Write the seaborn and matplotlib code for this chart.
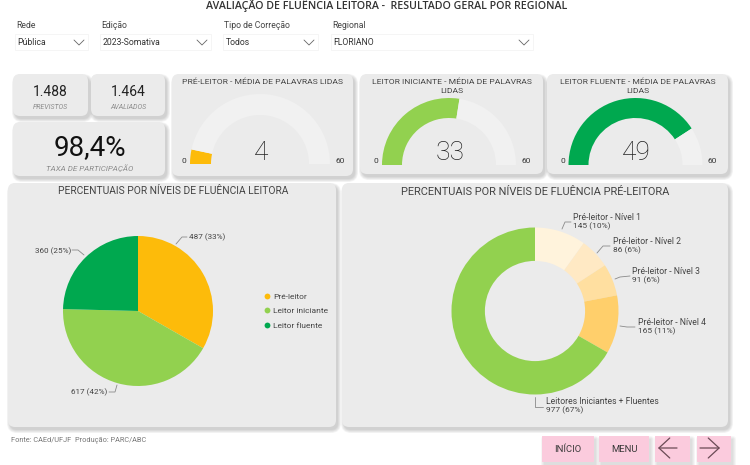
"""Painel de fluência leitora: cards, gauges, pizza e rosca."""
import matplotlib
matplotlib.use("Agg")
import matplotlib.pyplot as plt
import seaborn as sns
from matplotlib.lines import Line2D
from matplotlib.patches import FancyBboxPatch

# data
filter_labels = ["Rede", "Edição", "Tipo de Correção", "Regional"]
filter_values = ["Pública", "2023-Somativa", "Todos", "FLORIANO"]
previstos = "1.488"
avaliados = "1.464"
taxa = "98,4%"
gauge_titles = [
    "PRÉ-LEITOR - MÉDIA DE PALAVRAS LIDAS",
    "LEITOR INICIANTE - MÉDIA DE PALAVRAS\nLIDAS",
    "LEITOR FLUENTE - MÉDIA DE PALAVRAS\nLIDAS",
]
gauge_values = [4, 33, 49]
gauge_max = 60
level_names = ["Pré-leitor", "Leitor iniciante", "Leitor fluente"]
level_counts = [487, 617, 360]
pre_names = ["Pré-leitor - Nível 1", "Pré-leitor - Nível 2", "Pré-leitor - Nível 3",
             "Pré-leitor - Nível 4", "Leitores Iniciantes + Fluentes"]
pre_counts = [145, 86, 91, 165, 977]

# style
W, H = 750, 465
CARD = "#EBEBEB"
TRACK = "#F1F1F1"
TEXT = "#3A3A3A"
GREY = "#8C8C8C"
YELLOW = "#FDBB0A"
LIGHT_GREEN = "#92D14F"
GREEN = "#00A84F"
level_colors = [YELLOW, LIGHT_GREEN, GREEN]
pre_colors = ["#FFF3DC", "#FFE9C4", "#FFDFA0", "#FFCF6B", LIGHT_GREEN]
BUTTON = "#FBCBDD"

sns.set_theme(style="white")
plt.rcParams["font.family"] = ["Roboto", "DejaVu Sans"]

fig = plt.figure(figsize=(W / 100, H / 100), dpi=100, facecolor="white")


def pixel_axes(zorder):
    ax = fig.add_axes([0, 0, 1, 1], zorder=zorder)
    ax.set_xlim(0, W)
    ax.set_ylim(H, 0)
    ax.axis("off")
    ax.patch.set_alpha(0)
    return ax


back = pixel_axes(0)
front = pixel_axes(5)


def card(x0, y0, x1, y1, color=CARD, rad=7, shadow=0.06):
    # soft shadow from a few stacked translucent boxes
    for grow in (6.0, 4.5, 3.0, 1.5, 0.0):
        back.add_patch(FancyBboxPatch(
            (x0 + 2 - grow / 2, y0 + 3 - grow / 2), x1 - x0 + grow, y1 - y0 + grow,
            boxstyle=f"round,pad=0,rounding_size={rad + grow / 2}",
            fc="#555555", ec="none", alpha=shadow))
    back.add_patch(FancyBboxPatch(
        (x0, y0), x1 - x0, y1 - y0, boxstyle=f"round,pad=0,rounding_size={rad}",
        fc=color, ec="none"))


def circle_axes(cx, cy, radius):
    # ax.pie keeps +-1.25 as limits, so the box is 2.5 radii wide
    half = radius * 1.25
    ax = fig.add_axes([(cx - half) / W, 1 - (cy + half) / H, 2 * half / W, 2 * half / H], zorder=2)
    ax.patch.set_alpha(0)
    return ax


def gauge(cx, cy, radius, thick, value, color):
    ax = circle_axes(cx, cy, radius)
    wedges, _ = ax.pie([value, gauge_max - value, gauge_max], colors=[color, TRACK, "none"],
                       startangle=180, counterclock=False,
                       wedgeprops={"width": thick / radius, "linewidth": 0})
    wedges[2].set_visible(False)


def leader(points):
    xs, ys = zip(*points)
    front.add_line(Line2D(xs, ys, color="#8A8A8A", lw=0.6))


def count_label(count, total):
    return f"{count} ({round(100 * count / total)}%)"


# top title and filters
front.text(387, 5.5, "AVALIAÇÃO DE FLUÊNCIA LEITORA -  RESULTADO GERAL POR REGIONAL",
           ha="center", va="center", fontsize=7.7, fontfamily="Open Sans",
           fontweight="semibold", color="#333333")
filter_boxes = [(15, 88), (100, 211), (223, 318), (331, 533)]
for label, value, (x0, x1) in zip(filter_labels, filter_values, filter_boxes):
    back.add_patch(FancyBboxPatch((x0, 34), x1 - x0, 16, boxstyle="square,pad=0",
                                  fc="white", ec="#F4F4F4", lw=0.6))
    front.text(x0 + 1, 25, label, ha="left", va="center", fontsize=6.2, color="#444444")
    front.text(x0 + 2.5, 42.5, value, ha="left", va="center", fontsize=6.2, color="#333333")
    mid = x1 - 9
    front.plot([mid - 5, mid, mid + 5], [40, 45, 40], color="#666666", lw=0.6)

# KPI cards
card(13, 74, 88, 116)
card(91, 74, 165, 116)
card(13, 122, 165, 176)
front.text(50, 92.5, previstos, ha="center", va="center", fontsize=10, color="#222222")
front.text(50, 107, "PREVISTOS", ha="center", va="center", fontsize=5, style="italic", color=GREY)
front.text(128, 92.5, avaliados, ha="center", va="center", fontsize=10, color="#222222")
front.text(128, 107, "AVALIADOS", ha="center", va="center", fontsize=5, style="italic", color=GREY)
front.text(90, 148, taxa, ha="center", va="center", fontsize=20, color="#111111")
front.text(90, 168, "TAXA DE PARTICIPAÇÃO", ha="center", va="center", fontsize=5.8,
           style="italic", color=GREY)

# gauges
gauge_cards = [(172, 74, 353, 176), (360, 74, 543, 174), (547, 74, 728, 174)]
gauge_geom = [(260, 164, 70, 21), (449, 165, 67, 20), (635.5, 165, 67, 20)]
gauge_colors = [YELLOW, LIGHT_GREEN, GREEN]
for title, value, box, geom, color in zip(gauge_titles, gauge_values, gauge_cards,
                                          gauge_geom, gauge_colors):
    card(*box)
    cx, cy, radius, thick = geom
    gauge(cx, cy, radius, thick, value, color)
    mid = (box[0] + box[2]) / 2
    # one text per line, matplotlib's linespacing is too tight at this size
    for i, line in enumerate(title.split("\n")):
        front.text(mid, 82 + 9.3 * i, line, ha="center", va="center", fontsize=6.1, color="#444444")
    front.text(cx + 1, 153, str(value), ha="center", va="center", fontsize=19,
               fontweight="light", color="#222222")
    front.text(cx - radius - 6, 160.5, "0", ha="center", va="center", fontsize=6, color="#333333")
    front.text(cx + radius + 10, 160.5, str(gauge_max), ha="center", va="center",
               fontsize=6, color="#333333")

# large cards
card(8, 183, 336, 427)
card(342, 183, 728, 427)
front.text(173, 191, "PERCENTUAIS POR NÍVEIS DE FLUÊNCIA LEITORA", ha="center", va="center",
           fontsize=7.4, color="#444444")
front.text(535, 192, "PERCENTUAIS POR NÍVEIS DE FLUÊNCIA PRÉ-LEITORA", ha="center", va="center",
           fontsize=7.9, color="#444444")

# pie
pie_ax = circle_axes(138, 311, 75)
pie_ax.pie(level_counts, colors=level_colors, startangle=90, counterclock=False,
           wedgeprops={"linewidth": 0})
total = sum(level_counts)
pie_text = [(189, 237), (71, 392), (35, 251)]
pie_lines = [[(176, 244), (182, 237), (187, 237)],
             [(109, 392), (115, 392), (117, 385)],
             [(72, 250), (78, 250), (84, 255)]]
for count, pos, pts in zip(level_counts, pie_text, pie_lines):
    front.text(pos[0], pos[1], count_label(count, total), ha="left", va="center",
               fontsize=5.9, color="#444444")
    leader(pts)

handles = [Line2D([], [], marker="o", ls="", ms=4.2, mfc=c, mec="none") for c in level_colors]
front.legend(handles, level_names, loc="center left", bbox_to_anchor=(258 / W, 1 - 311 / H),
             bbox_transform=fig.transFigure, frameon=False, fontsize=6.0, labelspacing=0.9,
             handletextpad=0.1, handlelength=1.2, borderpad=0, labelcolor="#444444")

# donut
donut_ax = circle_axes(535, 311, 83.5)
donut_ax.pie(pre_counts, colors=pre_colors, startangle=90, counterclock=False,
             wedgeprops={"width": 0.4, "linewidth": 0})
total_pre = sum(pre_counts)
donut_text = [(573, 217), (613, 241), (632, 271), (638, 322), (546, 401)]
donut_lines = [[(562, 229), (565, 222), (571, 222)],
               [(597, 253), (603, 246), (610, 246)],
               [(615, 279), (620, 277), (630, 276)],
               [(620, 326), (627, 327), (635, 327)],
               [(535, 397), (535, 407), (543, 407)]]
for name, count, pos, pts in zip(pre_names, pre_counts, donut_text, donut_lines):
    front.text(pos[0], pos[1], name, ha="left", va="center", fontsize=6.2, color="#444444")
    front.text(pos[0], pos[1] + 9.5, count_label(count, total_pre), ha="left", va="center",
               fontsize=6.0, color="#444444")
    leader(pts)

# footer
front.text(11, 440, "Fonte: CAEd/UFJF  Produção: PARC/ABC", ha="left", va="center",
           fontsize=5.3, color="#777777")

for x0, x1, label in [(542, 594, "INÍCIO"), (599, 649, "MENU"), (655, 690, ""), (697, 731, "")]:
    card(x0, 436, x1, 462, color=BUTTON, rad=0.5, shadow=0.04)
    if label:
        front.text((x0 + x1) / 2, 449, label, ha="center", va="center", fontsize=6.8, color="#3A3A3A")
for tail, head in [((677, 448), (658, 448)), ((700, 448), (720, 448))]:
    front.annotate("", xy=head, xytext=tail,
                   arrowprops={"arrowstyle": "->,head_length=0.65,head_width=0.6",
                               "color": "#6A4A55", "lw": 0.9, "shrinkA": 0, "shrinkB": 0})

fig.savefig("out.png", dpi=100, facecolor="white")
plt.close(fig)
